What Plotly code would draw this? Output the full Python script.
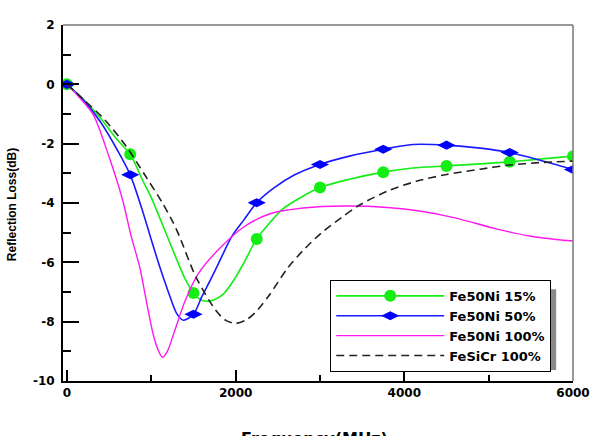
import plotly.graph_objects as go

# ---------------- data ----------------
marker_freqs = [0, 750, 1500, 2250, 3000, 3750, 4500, 5250, 6000]

f15 = [0, 200, 400, 600, 750, 900, 1000, 1100, 1250, 1400, 1500, 1600, 1700, 1850,
       2000, 2100, 2250, 2400, 2550, 2750, 3000, 3350, 3750, 4100, 4500, 4900, 5250, 5600, 6000]
rl15 = [0, -0.52, -1.15, -1.88, -2.36, -3.25, -3.82, -4.5, -5.55, -6.55, -7.03, -7.28, -7.30, -7.08,
        -6.5, -6.0, -5.21, -4.68, -4.22, -3.85, -3.48, -3.2, -2.96, -2.82, -2.75, -2.68, -2.61, -2.52, -2.42]

f50 = [0, 200, 400, 600, 750, 900, 1000, 1100, 1200, 1300, 1380, 1500, 1600, 1700, 1800, 1950,
       2100, 2250, 2450, 2700, 3000, 3350, 3750, 4100, 4500, 4900, 5250, 5600, 6000]
rl50 = [0, -0.55, -1.28, -2.23, -3.05, -4.3, -5.24, -6.15, -6.98, -7.72, -7.95, -7.75, -7.15, -6.6, -6.02, -5.15,
        -4.56, -3.99, -3.5, -3.05, -2.70, -2.42, -2.19, -2.03, -2.05, -2.15, -2.30, -2.55, -2.87]

f100 = [0, 150, 310, 500, 660, 760, 860, 950, 1020, 1080, 1133, 1190, 1270, 1400, 1560, 1800,
        2100, 2400, 2800, 3300, 3800, 4200, 4600, 5100, 5500, 5800, 6000]
rl100 = [0, -0.45, -1.01, -2.45, -3.9, -5.11, -6.13, -7.43, -8.4, -8.95, -9.2, -9.0, -8.37, -7.3, -6.37, -5.56,
         -4.8, -4.37, -4.17, -4.1, -4.15, -4.28, -4.5, -4.88, -5.12, -5.23, -5.28]

fsc = [0, 200, 450, 700, 920, 1130, 1250, 1330, 1530, 1760, 1880, 2000, 2120, 2230, 2390, 2620, 2800,
       3020, 3250, 3450, 3800, 4150, 4500, 4900, 5250, 5600, 6000]
rlsc = [0, -0.52, -1.2, -2.08, -3.04, -3.99, -4.61, -5.1, -6.5, -7.6, -7.95, -8.06, -7.95, -7.70, -7.14, -6.18, -5.6,
        -5.0, -4.5, -4.10, -3.6, -3.26, -3.04, -2.86, -2.72, -2.64, -2.59]

names = ["Fe50Ni 15%", "Fe50Ni 50%", "Fe50Ni 100%", "FeSiCr 100%"]
x_ticks = [0, 2000, 4000, 6000]
y_ticks = [2, 0, -2, -4, -6, -8, -10]

# ---------------- figure ----------------
TICKFONT = dict(family="DejaVu Sans", size=12, color="black", weight="bold")
MS = 12

def marker_idx(freqs):
    return [i for i, f in enumerate(freqs) if f in marker_freqs]

fig = go.Figure()
fig.add_trace(go.Scatter(x=f15, y=rl15, name=names[0], mode="lines+markers",
                         line=dict(color="#14ee14", width=1.6, shape="spline", smoothing=0.8),
                         marker=dict(symbol="circle", size=MS, color="#14ee14", line=dict(width=0)),
                         selectedpoints=marker_idx(f15),
                         selected=dict(marker=dict(opacity=1)),
                         unselected=dict(marker=dict(opacity=0))))
fig.add_trace(go.Scatter(x=f50, y=rl50, name=names[1], mode="lines+markers",
                         line=dict(color="#1a1aff", width=1.6, shape="spline", smoothing=0.8),
                         marker=dict(symbol="diamond-wide", size=MS + 1, color="#0000ff", line=dict(width=0)),
                         selectedpoints=marker_idx(f50),
                         selected=dict(marker=dict(opacity=1)),
                         unselected=dict(marker=dict(opacity=0))))
fig.add_trace(go.Scatter(x=f100, y=rl100, name=names[2], mode="lines",
                         line=dict(color="#ff19ee", width=1.4, shape="spline", smoothing=0.8)))
fig.add_trace(go.Scatter(x=fsc, y=rlsc, name=names[3], mode="lines",
                         line=dict(color="#222222", width=1.6, dash="8px,5px", shape="spline", smoothing=0.8)))

fig.update_layout(
    width=602, height=436,
    margin=dict(l=63, r=26, t=25, b=55),
    paper_bgcolor="white", plot_bgcolor="rgba(0,0,0,0)",
    showlegend=True,
    legend=dict(x=0.524, y=0.284, xanchor="left", yanchor="top",
                bgcolor="white", bordercolor="black", borderwidth=1,
                font=dict(family="DejaVu Sans", size=13, color="black", weight="bold"),
                itemwidth=108, itemsizing="trace", tracegroupgap=0),
    xaxis=dict(range=[-47, 6000], tickvals=x_ticks, ticktext=[str(v) for v in x_ticks],
               showgrid=False, zeroline=False, showline=True, linecolor="black", linewidth=2,
               ticks="inside", ticklen=11, tickwidth=2, tickcolor="black",
               minor=dict(ticks="inside", dtick=1000, tick0=1000, ticklen=6, tickwidth=1.5, tickcolor="black"),
               tickfont=TICKFONT),
    yaxis=dict(range=[-10, 2], tickvals=y_ticks, ticktext=[str(v) for v in y_ticks],
               showgrid=False, zeroline=False, showline=True, linecolor="black", linewidth=2,
               ticks="inside", ticklen=16, tickwidth=2, tickcolor="black", ticklabelstandoff=4,
               minor=dict(ticks="inside", dtick=2, tick0=1, ticklen=8, tickwidth=1.5, tickcolor="black"),
               tickfont=TICKFONT),
    font=dict(family="DejaVu Sans", color="black"),
)

# top / right frame lines (gray)
fig.add_shape(type="line", xref="paper", yref="paper", x0=0, x1=1, y0=1, y1=1,
              line=dict(color="#777777", width=1.5))
fig.add_shape(type="line", xref="paper", yref="paper", x0=1, x1=1, y0=0, y1=1,
              line=dict(color="#777777", width=1.5))
# legend drop shadow
fig.add_shape(type="rect", xref="paper", yref="paper", x0=0.536, x1=0.967, y0=0.031, y1=0.258,
              line=dict(width=0), fillcolor="#8a8a8a", layer="above")

fig.add_annotation(text="Reflection Loss(dB)", xref="paper", yref="paper", x=-0.1, y=0.494,
                   textangle=-90, showarrow=False, xanchor="center", yanchor="middle",
                   font=dict(family="Liberation Sans", size=12, color="black", weight="bold"))
fig.add_annotation(text="Frequency(MHz)", xref="paper", yref="paper", x=0.493, y=-0.13,
                   showarrow=False, xanchor="center", yanchor="top",
                   font=dict(family="DejaVu Sans", size=16, color="black", weight="bold"))

fig.write_html("out.html")
